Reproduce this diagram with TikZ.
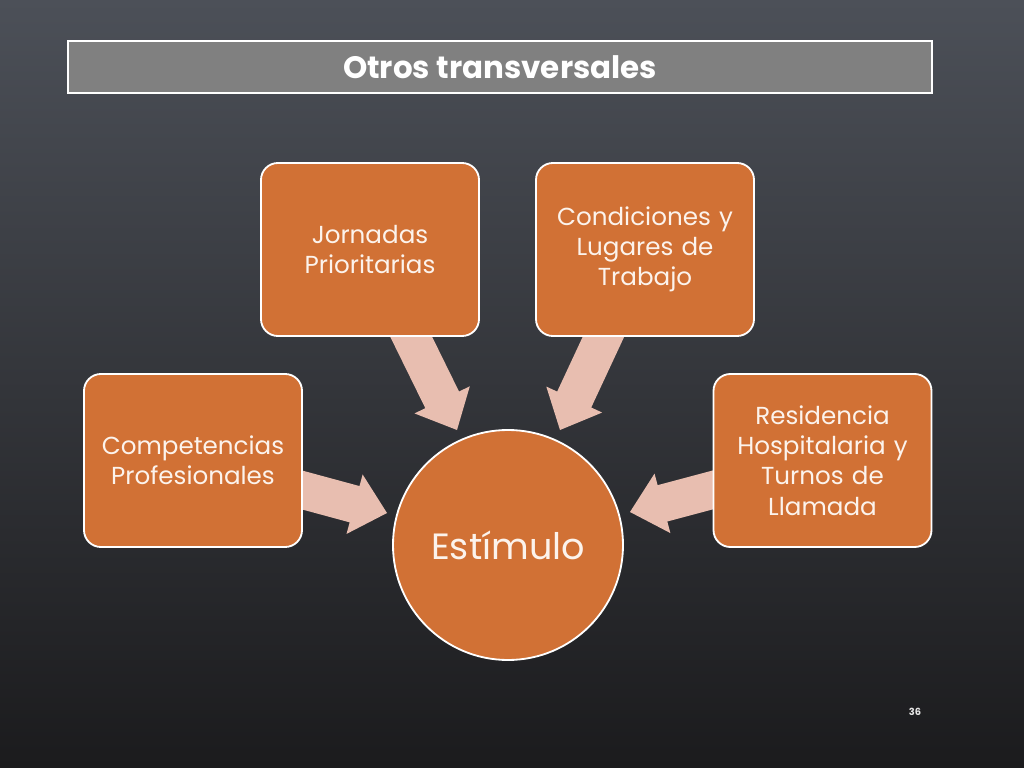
\documentclass[tikz,border=0pt]{standalone}
\usepackage{fontspec}
\setmainfont{Poppins}
\usetikzlibrary{calc}
\definecolor{slideorange}{RGB}{209,113,53}
\definecolor{arrowpink}{RGB}{232,190,176}
\definecolor{bartop}{RGB}{128,128,128}
\definecolor{bgtop}{RGB}{76,80,88}
\definecolor{bgbottom}{RGB}{27,27,29}
\definecolor{paletext}{RGB}{252,243,236}
\tikzset{every node/.style={inner sep=2pt},
 topicbox/.style={draw=white, line width=1.3pt, fill=slideorange, rounded corners=12pt,
   minimum width=5.45cm, minimum height=4.325cm, text width=5.3cm, align=center,
   text=paletext, font=\fontsize{17.5}{21.5}\selectfont},
 hubcircle/.style={circle, draw=white, line width=1.3pt, fill=slideorange,
   minimum size=5.75cm, text=paletext, font=\fontsize{26}{30}\selectfont}}
\newcommand{\blockarrow}[2]{%
  \coordinate (h) at ($(#2)!0.84cm!(#1)$);
  \fill[arrowpink] ($(#1)!0.47cm!90:(#2)$) -- ($(h)!0.47cm!90:(#2)$)
    -- ($(h)!0.77cm!90:(#2)$) -- (#2) -- ($(h)!0.77cm!-90:(#2)$)
    -- ($(h)!0.47cm!-90:(#2)$) -- ($(#1)!0.47cm!-90:(#2)$) -- cycle;}
\begin{document}
 \begin{tikzpicture}
  \shade[top color=bgtop, bottom color=bgbottom] (0,0) rectangle (25.6,-19.2);
  \useasboundingbox (0,0) rectangle (25.6,-19.2);
  \node[draw=white, line width=1.5pt, fill=bartop, minimum width=21.6cm, minimum height=1.3cm,
    text=white, font=\bfseries\fontsize{22}{24}\selectfont] (title) at (12.5,-1.675) {Otros transversales};
  \coordinate (compTail) at ( 7.000,-12.100);
  \coordinate (compTip)  at ( 9.675,-12.825);
  \coordinate (jornTail) at ( 9.950, -7.750);
  \coordinate (jornTip)  at (11.425,-10.750);
  \coordinate (condTail) at (15.375, -7.800);
  \coordinate (condTip)  at (14.000,-10.750);
  \coordinate (resiTail) at (18.375,-12.100);
  \coordinate (resiTip)  at (15.750,-12.800);
  \blockarrow{compTail}{compTip}
  \blockarrow{jornTail}{jornTip}
  \blockarrow{condTail}{condTip}
  \blockarrow{resiTail}{resiTip}
  \node[topicbox] (comp) at ( 4.825,-11.5125) {Competencias\\Profesionales};
  \node[topicbox] (jorn) at ( 9.250, -6.2375) {Jornadas\\Prioritarias};
  \node[topicbox] (cond) at (16.125, -6.2375) {Condiciones y\\Lugares de\\Trabajo};
  \node[topicbox] (resi) at (20.5625,-11.5125) {Residencia\\Hospitalaria y\\Turnos de\\Llamada};
  \node[hubcircle] (stim) at (12.7,-13.625) {Estímulo};
  \node[text=white!90!black, font=\bfseries\fontsize{7}{8}\selectfont] (page) at (22.875,-17.8) {36};
 \end{tikzpicture}
\end{document}
